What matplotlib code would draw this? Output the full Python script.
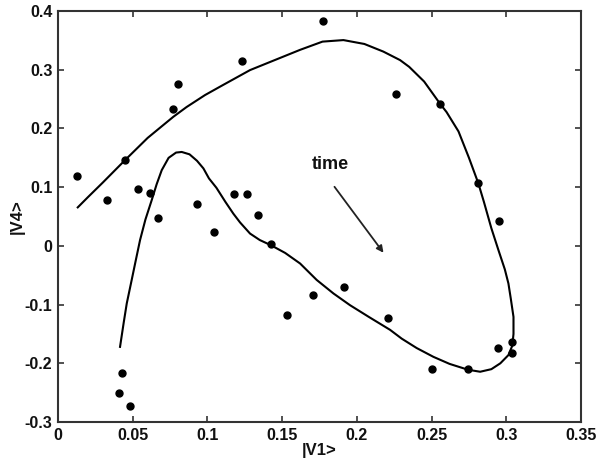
import matplotlib
matplotlib.use("Agg")
import matplotlib.pyplot as plt

plt.rcParams["font.family"] = ["Liberation Sans", "DejaVu Sans"]
plt.rcParams["axes.unicode_minus"] = False

# scattered observations
pts_x = [0.0125, 0.0326, 0.0448, 0.0538, 0.0614, 0.0672, 0.0772, 0.0805,
         0.0928, 0.1046, 0.1180, 0.1263, 0.1234, 0.1337, 0.1426, 0.1530,
         0.1709, 0.1774, 0.1912, 0.2207, 0.2260, 0.2505, 0.2557, 0.2744,
         0.2813, 0.2947, 0.2952, 0.3037, 0.3041, 0.0426, 0.0410, 0.0482]
pts_y = [0.119, 0.079, 0.146, 0.097, 0.0905, 0.048, 0.234, 0.276,
         0.072, 0.024, 0.088, 0.088, 0.315, 0.053, 0.003, -0.117,
         -0.084, 0.3835, -0.070, -0.1235, 0.2586, -0.2104, 0.242, -0.2104,
         0.1064, -0.1746, 0.042, -0.1634, -0.182, -0.216, -0.250, -0.272]

# fitted trajectory
curve_x = [0.0415, 0.0440, 0.0460, 0.0493, 0.0520, 0.0549, 0.0585, 0.0627,
           0.0660, 0.0694, 0.0740, 0.0790, 0.0828, 0.0880, 0.0930, 0.0973,
           0.1010, 0.1060, 0.1120, 0.1173, 0.1218, 0.1285, 0.1350, 0.1426,
           0.1520, 0.1620, 0.1731, 0.1843, 0.1954, 0.2080, 0.2222, 0.2300,
           0.2400, 0.2512, 0.2620, 0.2744, 0.2825, 0.2900, 0.2960, 0.3014,
           0.3040, 0.3048, 0.3048, 0.3030, 0.3014, 0.2990, 0.2947, 0.2900,
           0.2850, 0.2813, 0.2750, 0.2680, 0.2600, 0.2557, 0.2450, 0.2350,
           0.2289, 0.2177, 0.2050, 0.1910, 0.1770, 0.1620, 0.1450, 0.1285,
           0.1100, 0.0984, 0.0860, 0.0772, 0.0705, 0.0600, 0.0448, 0.0300,
           0.0200, 0.0132]
curve_y = [-0.172, -0.130, -0.098, -0.058, -0.025, 0.010, 0.045, 0.078,
           0.105, 0.129, 0.150, 0.159, 0.160, 0.156, 0.145, 0.132,
           0.115, 0.099, 0.075, 0.055, 0.040, 0.021, 0.010, 0.001,
           -0.012, -0.030, -0.058, -0.081, -0.101, -0.121, -0.143, -0.158,
           -0.174, -0.189, -0.201, -0.211, -0.2144, -0.210, -0.200, -0.186,
           -0.170, -0.150, -0.121, -0.090, -0.064, -0.040, -0.007, 0.030,
           0.075, 0.1064, 0.150, 0.195, 0.228, 0.242, 0.280, 0.305,
           0.3165, 0.331, 0.344, 0.3506, 0.348, 0.334, 0.3165, 0.2995,
           0.2735, 0.257, 0.2365, 0.220, 0.206, 0.184, 0.146, 0.108,
           0.083, 0.0656]

xticks = [0, 0.05, 0.1, 0.15, 0.2, 0.25, 0.3, 0.35]
xtick_labels = ["0", "0.05", "0.1", "0.15", "0.2", "0.25", "0.3", "0.35"]
yticks = [-0.3, -0.2, -0.1, 0, 0.1, 0.2, 0.3, 0.4]
ytick_labels = ["-0.3", "-0.2", "-0.1", "0", "0.1", "0.2", "0.3", "0.4"]

fig = plt.figure(figsize=(6, 4.68), dpi=100)
ax = fig.add_axes([0.0967, 0.0983, 0.8717, 0.878])

ax.plot(curve_x, curve_y, color="black", lw=1.5, solid_joinstyle="round")
ax.plot(pts_x, pts_y, "o", color="black", ms=5)

ax.annotate("", xy=(0.2178, -0.0117), xytext=(0.185, 0.1007),
            arrowprops=dict(arrowstyle="-|>", color="#222222", lw=1.3,
                            mutation_scale=10, shrinkA=0, shrinkB=0))
ax.text(0.182, 0.138, "time", fontsize=13, fontweight="bold",
        ha="center", va="center", color="#111111")

ax.set_xlim(0, 0.35); ax.set_ylim(-0.3, 0.4)
ax.set_xticks(xticks); ax.set_xticklabels(xtick_labels)
ax.set_yticks(yticks); ax.set_yticklabels(ytick_labels)
ax.tick_params(direction="in", length=4, width=1.2, top=True, right=True,
               labelsize=11.5, pad=4, color="#333333", labelcolor="#111111")
for lab in ax.get_xticklabels() + ax.get_yticklabels():
    lab.set_fontweight("bold")
for sp in ax.spines.values():
    sp.set_linewidth(1.5); sp.set_color("#333333")

ax.set_xlabel("|V1>", fontsize=12, fontweight="bold", labelpad=0, color="#111111")
ax.set_ylabel("|V4>", fontsize=12, fontweight="bold", labelpad=0, color="#111111")

plt.savefig("out.png", dpi=100, facecolor="white")
plt.close()
